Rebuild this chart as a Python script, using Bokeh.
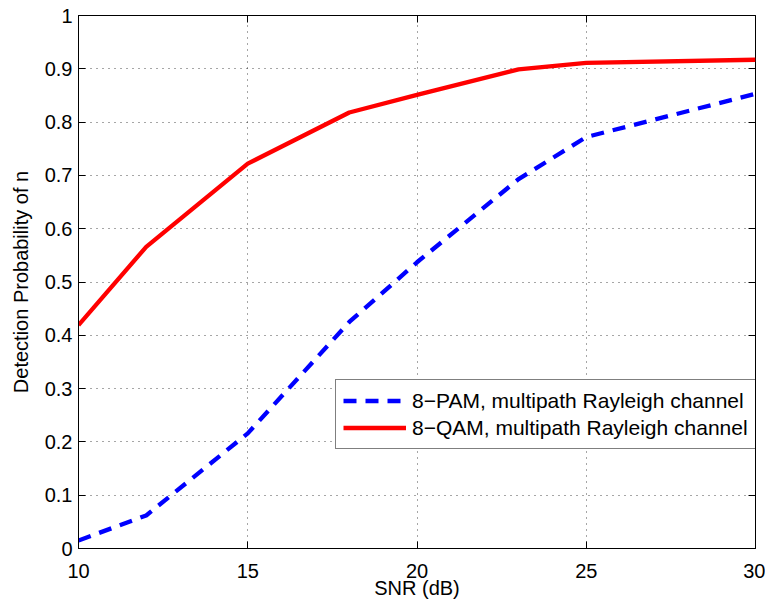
from bokeh.plotting import figure
from bokeh.models import Range1d, FixedTicker, LinearAxis, Legend, LegendItem, PrintfTickFormatter
from bokeh.embed import file_html
from bokeh.resources import INLINE

snr = [10, 12, 15, 18, 20, 23, 25, 30]
pam = [0.015, 0.062, 0.216, 0.425, 0.537, 0.693, 0.772, 0.853]
qam = [0.419, 0.566, 0.722, 0.818, 0.851, 0.899, 0.911, 0.917]
x_ticks = [10, 15, 20, 25, 30]
y_ticks = [0, 0.1, 0.2, 0.3, 0.4, 0.5, 0.6, 0.7, 0.8, 0.9, 1]
pam_label = "8\u2212PAM, multipath Rayleigh channel"
qam_label = "8\u2212QAM, multipath Rayleigh channel"
x_title = "SNR (dB)"
y_title = "Detection Probability of n"

FONT = "Liberation Sans"
FS = "20px"

p = figure(width=765, height=603, output_backend="svg", toolbar_location=None,
           x_range=Range1d(10, 30), y_range=Range1d(0, 1),
           min_border_left=78, min_border_right=10, min_border_top=15, min_border_bottom=55)
p.background_fill_color = "white"
p.border_fill_color = "white"
p.outline_line_color = "black"
p.outline_line_width = 1

for ax in (p.xaxis[0], p.yaxis[0]):
    ax.major_tick_in = 7
    ax.major_tick_out = 0
    ax.minor_tick_line_color = None
    ax.axis_line_color = "black"
    ax.major_tick_line_color = "black"
    ax.major_label_text_font = FONT
    ax.major_label_text_font_size = FS
    ax.major_label_text_color = "black"
    ax.axis_label_text_font = FONT
    ax.axis_label_text_font_size = FS
    ax.axis_label_text_font_style = "normal"
    ax.axis_label_text_color = "black"

p.xaxis.ticker = FixedTicker(ticks=x_ticks)
p.yaxis.ticker = FixedTicker(ticks=y_ticks)
p.yaxis.formatter = PrintfTickFormatter(format="%g")
p.xaxis.formatter = PrintfTickFormatter(format="%g")
p.xaxis.axis_label = x_title
p.yaxis.axis_label = y_title
p.xaxis.major_label_standoff = 15
p.xaxis.axis_label_standoff = -4
p.yaxis.major_label_standoff = 6
p.yaxis.axis_label_standoff = 10

# ticks on top and right (box style), no labels drawn
top = LinearAxis(ticker=FixedTicker(ticks=x_ticks), major_label_text_color=None,
                 major_label_text_font_size="1px",
                 major_tick_in=7, major_tick_out=0, minor_tick_line_color=None,
                 axis_line_color=None, major_label_standoff=0)
right = LinearAxis(ticker=FixedTicker(ticks=y_ticks), major_label_text_color=None,
                   major_label_text_font_size="1px",
                   major_tick_in=7, major_tick_out=0, minor_tick_line_color=None,
                   axis_line_color=None, major_label_standoff=0)
p.add_layout(top, "above")
p.add_layout(right, "right")

p.xgrid.ticker = FixedTicker(ticks=x_ticks)
p.ygrid.ticker = FixedTicker(ticks=y_ticks)
for g in (p.xgrid[0], p.ygrid[0]):
    g.grid_line_color = "black"
    g.grid_line_alpha = 0.7
    g.grid_line_dash = "1 5"
    g.grid_line_width = 1

r_pam = p.line(snr, pam, line_color="#0000ff", line_width=4.3, line_dash="13 9")
r_qam = p.line(snr, qam, line_color="#ff0000", line_width=4.3)

legend = Legend(items=[LegendItem(label=pam_label, renderers=[r_pam]),
                       LegendItem(label=qam_label, renderers=[r_qam])],
                location=(257, 99))
legend.label_text_font = FONT
legend.label_text_font_size = "21px"
legend.label_text_color = "black"
legend.glyph_width = 63
legend.glyph_height = 27
legend.label_height = 27
legend.label_standoff = 6
legend.padding = 7
legend.spacing = 0
legend.margin = 0
legend.border_line_color = "black"
legend.border_line_width = 1
legend.background_fill_color = "white"
legend.background_fill_alpha = 1
p.add_layout(legend, "center")

open("out.html", "w").write(file_html(p, INLINE))
